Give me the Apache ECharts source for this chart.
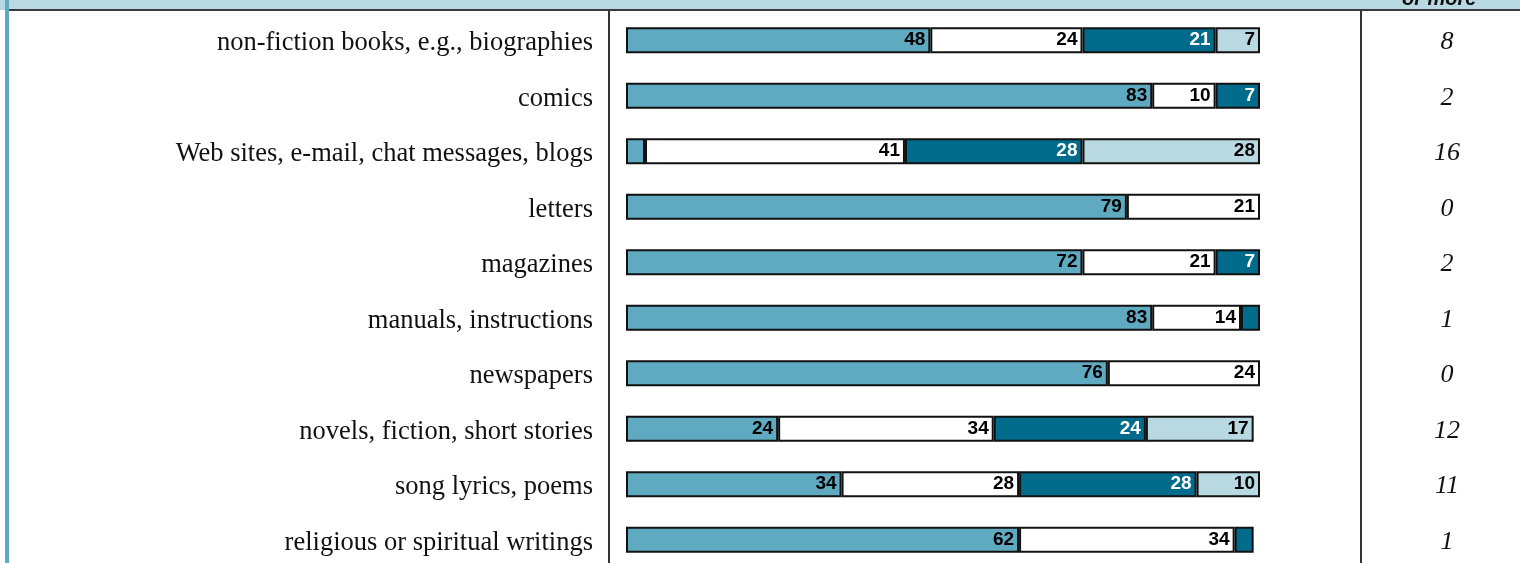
<!DOCTYPE html>
<html>
<head>
<meta charset="utf-8">
<script src="https://cdn.jsdelivr.net/npm/echarts@6/dist/echarts.min.js"></script>
<style>
  html, body { margin: 0; padding: 0; background: #fff; }
  #chart { width: 1520px; height: 563px; }
</style>
</head>
<body>
<div id="chart"></div>
<script>
const categories = [
  'non-fiction books, e.g., biographies',
  'comics',
  'Web sites, e-mail, chat messages, blogs',
  'letters',
  'magazines',
  'manuals, instructions',
  'newspapers',
  'novels, fiction, short stories',
  'song lyrics, poems',
  'religious or spiritual writings'
]
// percentages of each segment, left to right
const level1 = [48, 83, 3, 79, 72, 83, 76, 24, 34, 62]
const level2 = [24, 10, 41, 21, 21, 14, 24, 34, 28, 34]
const level3 = [21, 7, 28, 0, 7, 3, 0, 24, 28, 3]
const level4 = [7, 0, 28, 0, 0, 0, 0, 17, 10, 0]
// last column ("... or more")
const moreCounts = ['8', '2', '16', '0', '2', '1', '0', '12', '11', '1']

const colors = ['#5fa9c1', '#ffffff', '#006b8a', '#b8d8e2']
const labelColors = ['#000', '#000', '#fff', '#000']

function makeSeries(name, values, idx) {
  return {
    name: name,
    type: 'bar',
    stack: 'total',
    barWidth: 26,
    data: values.map(v => (v === 0 ? '-' : v)),
    itemStyle: {
      color: colors[idx],
      borderColor: '#111',
      borderWidth: 2
    },
    label: {
      show: true,
      position: 'insideRight',
      distance: 5,
      color: labelColors[idx],
      fontFamily: 'Liberation Sans, Arial, sans-serif',
      fontWeight: 'bold',
      fontSize: 19,
      formatter: function (p) {
        return p.value < 5 ? '' : p.value
      }
    }
  }
}

const chart = echarts.init(document.getElementById('chart'))
const option = {
  animation: false,
  backgroundColor: '#fff',
  grid: {
    left: 626,
    right: 260,
    top: 12.5,
    height: 555,
    outerBoundsMode: 'none'
  },
  xAxis: {
    type: 'value',
    min: 0,
    max: 100,
    show: false
  },
  yAxis: [
    {
      type: 'category',
      data: categories,
      inverse: true,
      axisLine: { show: false },
      axisTick: { show: false },
      splitLine: { show: false },
      axisLabel: {
        margin: 33,
        formatter: function (v) {
          return '{t|' + v + '}'
        },
        rich: {
          t: {
            padding: [6, 0, 0, 0],
            color: '#111',
            fontFamily: 'Liberation Serif, Times New Roman, serif',
            fontSize: 26.5
          }
        }
      }
    },
    {
      type: 'category',
      data: categories,
      inverse: true,
      position: 'right',
      axisLine: { show: false },
      axisTick: { show: false },
      splitLine: { show: false },
      axisLabel: {
        margin: 187,
        align: 'center',
        formatter: function (v, i) {
          return '{n|' + moreCounts[i] + '}'
        },
        rich: {
          n: {
            padding: [4, 0, 0, 0],
            color: '#111',
            fontFamily: 'Liberation Serif, Times New Roman, serif',
            fontStyle: 'italic',
            fontSize: 26
          }
        }
      }
    }
  ],
  series: [
    makeSeries('level1', level1, 0),
    makeSeries('level2', level2, 1),
    makeSeries('level3', level3, 2),
    makeSeries('level4', level4, 3)
  ],
  graphic: [
    // header band
    { type: 'rect', z: 0, shape: { x: 0, y: 0, width: 1520, height: 10 }, style: { fill: '#b8d8e2' } },
    {
      type: 'text', z: 1, left: 1402, top: -11,
      style: {
        text: 'or more',
        fill: '#111',
        font: 'italic bold 20px "Liberation Sans", Arial, sans-serif'
      }
    },
    { type: 'rect', z: 2, shape: { x: 9, y: 9, width: 1511, height: 2 }, style: { fill: '#3a3a3a' } },
    // left border
    { type: 'rect', z: 2, shape: { x: 5, y: 0, width: 4, height: 563 }, style: { fill: '#5fa9c1' } },
    // column dividers
    { type: 'rect', z: 1, shape: { x: 608, y: 10, width: 2, height: 553 }, style: { fill: '#333' } },
    { type: 'rect', z: 1, shape: { x: 1360, y: 10, width: 2, height: 553 }, style: { fill: '#333' } }
  ]
}
chart.setOption(option)
</script>
</body>
</html>
